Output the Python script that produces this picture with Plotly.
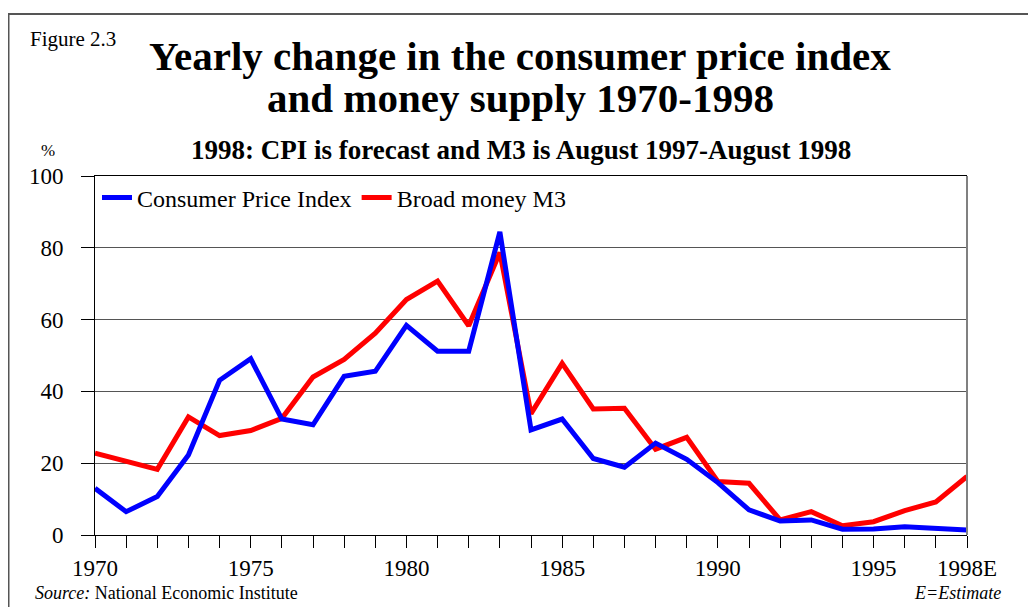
import plotly.graph_objects as go

years = list(range(1970, 1999))
cpi = [13.0, 6.5, 10.7, 22.3, 43.1, 49.1, 32.3, 30.7, 44.2, 45.6,
       58.4, 51.2, 51.2, 84.4, 29.3, 32.3, 21.3, 18.9, 25.6, 21.1,
       14.6, 7.0, 3.9, 4.2, 1.6, 1.7, 2.3, 1.9, 1.4]
m3 = [22.8, 20.5, 18.3, 32.9, 27.7, 29.1, 32.5, 44.0, 48.9, 56.2,
      65.6, 70.7, 58.3, 78.7, 33.8, 47.8, 35.1, 35.3, 23.9, 27.2,
      14.9, 14.4, 4.2, 6.5, 2.6, 3.7, 6.8, 9.2, 16.3]
xtick_labels = {1970: "1970", 1975: "1975", 1980: "1980", 1985: "1985",
                1990: "1990", 1995: "1995", 1998: "1998E"}
ytick_vals = [0, 20, 40, 60, 80, 100]

SERIF = "Liberation Serif, Times New Roman, serif"

fig = go.Figure()
fig.add_trace(go.Scatter(x=years, y=m3, mode="lines", name="Broad money M3",
                         line=dict(color="#ff0000", width=5), legendrank=2))
fig.add_trace(go.Scatter(x=years, y=cpi, mode="lines", name="Consumer Price Index",
                         line=dict(color="#0000ff", width=5), legendrank=1))

# page body has an 8px margin, so the figure is placed at (8, 8)
OFF = 8
W, H = 1036 - OFF, 607 - OFF
ML, MT = 95 - OFF, 176 - OFF
PW, PH = 872, 359
MR = W - ML - PW
MB = H - MT - PH


def px(xp):
    return (xp - OFF - ML) / PW


def py(yp):
    return (MT + PH - (yp - OFF)) / PH


fig.update_layout(
    width=W, height=H,
    margin=dict(l=ML, r=MR, t=MT, b=MB),
    paper_bgcolor="white", plot_bgcolor="white",
    font=dict(family=SERIF, color="black"),
    showlegend=True,
    legend=dict(orientation="h", x=px(97), y=py(198), xanchor="left", yanchor="middle",
                font=dict(size=24, family=SERIF), bgcolor="rgba(0,0,0,0)",
                itemwidth=30, traceorder="normal"),
    xaxis=dict(range=[1970, 1998], tickvals=years,
               ticktext=[xtick_labels.get(y, "") for y in years],
               ticks="outside", ticklen=12, tickcolor="black", tickwidth=1,
               showline=True, linecolor="black", linewidth=1, mirror=True,
               showgrid=False, zeroline=False,
               tickfont=dict(size=23, family=SERIF), ticklabelstandoff=0),
    yaxis=dict(range=[0, 100], tickvals=ytick_vals,
               ticks="outside", ticklen=13, tickcolor="black", tickwidth=1,
               showline=True, linecolor="black", linewidth=1,
               showgrid=True, gridcolor="#555555", gridwidth=1, zeroline=False,
               tickfont=dict(size=23, family=SERIF), ticklabelstandoff=13),
)

shapes = [
    # right plot border (grey)
    dict(type="line", xref="paper", yref="paper", x0=1, x1=1, y0=0, y1=1,
         line=dict(color="#808080", width=2)),
    # outer frame (left and top)
    dict(type="line", xref="paper", yref="paper", x0=px(8.5), x1=px(8.5), y0=py(14), y1=py(620),
         line=dict(color="#555555", width=2)),
    dict(type="line", xref="paper", yref="paper", x0=px(8), x1=px(1045), y0=py(14), y1=py(14),
         line=dict(color="#555555", width=2)),
]
fig.update_layout(shapes=shapes)

ann = [
    dict(text="Figure 2.3", x=px(28), y=py(39), xanchor="left", yanchor="middle",
         font=dict(size=21, family=SERIF)),
    dict(text="<b>Yearly change in the consumer price index</b>", x=px(520), y=py(56),
         xanchor="center", yanchor="middle", font=dict(size=41, family=SERIF)),
    dict(text="<b>and money supply 1970-1998</b>", x=px(520), y=py(98),
         xanchor="center", yanchor="middle", font=dict(size=41, family=SERIF)),
    dict(text="<b>1998: CPI is forecast and M3 is August 1997-August 1998</b>", x=px(521), y=py(150),
         xanchor="center", yanchor="middle", font=dict(size=27, family=SERIF)),
    dict(text="%", x=px(48), y=py(151), xanchor="center", yanchor="middle",
         font=dict(size=17, family=SERIF)),
    dict(text="<i>Source:</i> National Economic Institute", x=px(33), y=py(593),
         xanchor="left", yanchor="middle", font=dict(size=18, family=SERIF)),
    dict(text="<i>E=Estimate</i>", x=px(1003), y=py(593),
         xanchor="right", yanchor="middle", font=dict(size=18, family=SERIF)),
]
for a in ann:
    a.update(xref="paper", yref="paper", showarrow=False)
fig.update_layout(annotations=ann)

fig.write_html("out.html")
